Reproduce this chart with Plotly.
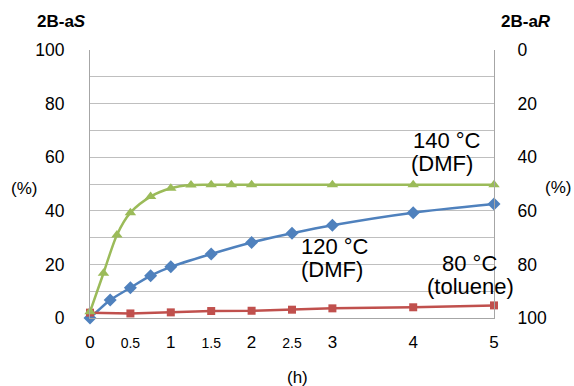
import plotly.graph_objects as go

# Data
green_x = [0, 1/6, 1/3, 0.5, 0.75, 1, 1.25, 1.5, 1.75, 2, 3, 4, 5]
green_y = [2.3, 16.7, 31.0, 39.3, 45.3, 48.4, 49.6, 49.7, 49.7, 49.7, 49.7, 49.7, 49.7]
blue_x = [0, 0.25, 0.5, 0.75, 1, 1.5, 2, 2.5, 3, 4, 5]
blue_y = [0, 6.7, 11.3, 15.8, 19.1, 23.9, 28.2, 31.6, 34.6, 39.3, 42.5]
red_x = [0, 0.5, 1, 1.5, 2, 2.5, 3, 4, 5]
red_y = [2.0, 1.7, 2.1, 2.6, 2.7, 3.1, 3.6, 4.0, 4.7]

x_tickvals = [0, 0.5, 1, 1.5, 2, 2.5, 3, 4, 5]
x_ticktext = ["0", "<span style='font-size:14px'>0.5</span>", "1",
              "<span style='font-size:14px'>1.5</span>", "2",
              "<span style='font-size:14px'>2.5</span>", "3", "4", "5"]
left_tickvals = [0, 10, 20, 30, 40, 50, 60, 70, 80, 90, 100]
left_ticktext = ["0", "", "20", "", "40", "", "60", "", "80", "", "100"]
right_tickvals = [0, 20, 40, 60, 80, 100]

BLUE = "#4F81BD"
RED = "#C0504D"
GREEN = "#9BBB59"
FONT = "Liberation Sans, Arial, sans-serif"

fig = go.Figure()
fig.add_trace(go.Scatter(x=blue_x, y=blue_y, mode="lines+markers",
                         line=dict(color=BLUE, width=2.5, shape="spline", smoothing=0.6),
                         marker=dict(symbol="diamond", size=10, color=BLUE),
                         cliponaxis=False, name="120 °C (DMF)"))
fig.add_trace(go.Scatter(x=red_x, y=red_y, mode="lines+markers",
                         line=dict(color=RED, width=2.5),
                         marker=dict(symbol="square", size=8, color=RED),
                         cliponaxis=False, name="80 °C (toluene)"))
fig.add_trace(go.Scatter(x=green_x, y=green_y, mode="lines+markers",
                         line=dict(color=GREEN, width=2.5, shape="spline", smoothing=0.8),
                         marker=dict(symbol="triangle-up", size=10, color=GREEN),
                         cliponaxis=False, name="140 °C (DMF)"))
# invisible trace to activate right axis
fig.add_trace(go.Scatter(x=[0], y=[0], yaxis="y2", mode="markers",
                         marker=dict(opacity=0), hoverinfo="skip", showlegend=False))

# annotations given in pixel coordinates, converted below
ann_specs = [
    ("140 °C", 447, 140, 22),
    ("(DMF)", 442, 163, 22),
    ("120 °C", 335, 246, 22),
    ("(DMF)", 332, 269, 22),
    ("80 °C", 469, 263, 22),
    ("(toluene)", 470, 286, 22),
    ("<b>2B-a<i>S</i></b>", 61, 21, 17),
    ("<b>2B-a<i>R</i></b>", 526, 21, 17),
    ("(%)", 24, 188, 17),
    ("(%)", 558, 187, 17),
    ("(h)", 297, 377, 17),
]

W, H = 574, 386
L, R, T, B = 90, 80, 50, 68
pw, ph = W - L - R, H - T - B
annotations = []
for text, px, py, size in ann_specs:
    annotations.append(dict(text=text, xref="paper", yref="paper",
                            x=(px - L) / pw, y=(H - B - py) / ph,
                            xanchor="center", yanchor="middle",
                            showarrow=False, font=dict(size=size)))

fig.update_layout(
    width=W, height=H,
    margin=dict(l=L, r=R, t=T, b=B),
    paper_bgcolor="white", plot_bgcolor="white",
    showlegend=False,
    font=dict(family=FONT, size=17, color="#000000"),
    xaxis=dict(range=[0, 5], tickvals=x_tickvals, ticktext=x_ticktext,
               showgrid=False, zeroline=False, showline=True, linecolor="#A6A6A6",
               linewidth=1, ticks="", ticklabelstandoff=9,
               tickfont=dict(size=17)),
    yaxis=dict(range=[0, 100], tickvals=left_tickvals, ticktext=left_ticktext,
               showgrid=True, gridcolor="#BFBFBF", gridwidth=1, zeroline=False,
               showline=True, linecolor="#A6A6A6", linewidth=1, ticks="",
               ticklabelstandoff=21, tickfont=dict(size=17.5)),
    yaxis2=dict(range=[100, 0], overlaying="y", side="right",
                tickvals=right_tickvals, showgrid=False, zeroline=False,
                showline=True, linecolor="#A6A6A6", linewidth=1, ticks="",
                ticklabelstandoff=19, tickfont=dict(size=17.5)),
    annotations=annotations,
)

fig.write_html("out.html")
